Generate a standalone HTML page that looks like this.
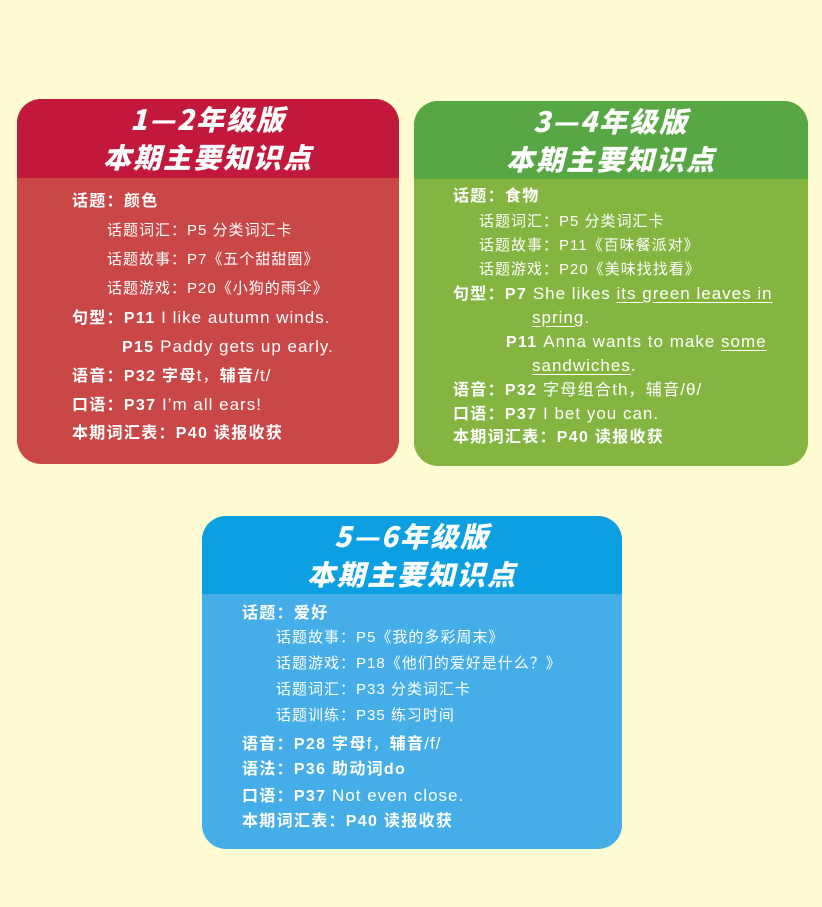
<!DOCTYPE html>
<html><head><meta charset="utf-8"><style>
body{margin:0;width:822px;height:907px;background:#fffbd3;position:relative;overflow:hidden;font-family:"Liberation Sans","Noto Sans CJK SC",sans-serif;color:#fff}
.box{position:absolute;border-radius:24px;overflow:hidden}
.hd{position:absolute;left:0;right:0;top:0;text-align:center;font-family:"Noto Sans CJK SC",sans-serif;font-weight:900;font-style:italic;font-size:28px;line-height:38px;padding-top:1px;letter-spacing:2px}
.t{position:absolute;white-space:nowrap;font-size:16px;line-height:20px;letter-spacing:1.3px}
.b{font-weight:bold}
.s{font-size:15px;letter-spacing:1px}
.e{font-size:17px;letter-spacing:1px}
u{text-decoration:underline;text-underline-offset:3px}
</style></head><body>

<div class="box" style="left:17px;top:99px;width:382px;height:365px;background:#c94746">
<div class="hd" style="height:78px;background:#c2183b">1—2年级版<br>本期主要知识点</div>
</div>
<div class="t b" style="left:72px;top:192px">话题：颜色</div>
<div class="t s" style="left:107px;top:221px">话题词汇：P5 分类词汇卡</div>
<div class="t s" style="left:107px;top:250px">话题故事：P7《五个甜甜圈》</div>
<div class="t s" style="left:107px;top:279px">话题游戏：P20《小狗的雨伞》</div>
<div class="t" style="left:72px;top:308px"><span class="b">句型：P11</span> <span class="e">I like autumn winds.</span></div>
<div class="t" style="left:122px;top:337px"><span class="b">P15</span> <span class="e">Paddy gets up early.</span></div>
<div class="t" style="left:72px;top:366px"><span class="b">语音：P32 字母</span><span class="e">t</span>，<span class="b">辅音</span><span class="e">/t/</span></div>
<div class="t" style="left:72px;top:395px"><span class="b">口语：P37</span> <span class="e">I’m all ears!</span></div>
<div class="t b" style="left:72px;top:424px">本期词汇表：P40 读报收获</div>

<div class="box" style="left:414px;top:101px;width:394px;height:365px;background:#84b541">
<div class="hd" style="height:77px;background:#57a745">3—4年级版<br>本期主要知识点</div>
</div>
<div class="t b" style="left:453px;top:187px">话题：食物</div>
<div class="t s" style="left:479px;top:212px">话题词汇：P5 分类词汇卡</div>
<div class="t s" style="left:479px;top:236px">话题故事：P11《百味餐派对》</div>
<div class="t s" style="left:479px;top:260px">话题游戏：P20《美味找找看》</div>
<div class="t" style="left:453px;top:284px"><span class="b">句型：P7</span> <span class="e">She likes <u>its green leaves in</u></span></div>
<div class="t" style="left:532px;top:308px"><span class="e"><u>spring</u>.</span></div>
<div class="t" style="left:506px;top:332px"><span class="b">P11</span> <span class="e">Anna wants to make <u>some</u></span></div>
<div class="t" style="left:532px;top:356px"><span class="e"><u>sandwiches</u>.</span></div>
<div class="t" style="left:453px;top:380px"><span class="b">语音：P32</span> 字母组合<span class="e">th</span>，辅音<span class="e">/θ/</span></div>
<div class="t" style="left:453px;top:404px"><span class="b">口语：P37</span> <span class="e">I bet you can.</span></div>
<div class="t b" style="left:453px;top:428px">本期词汇表：P40 读报收获</div>

<div class="box" style="left:202px;top:516px;width:420px;height:333px;background:#45aee8">
<div class="hd" style="height:77px;background:#0ca0e2">5—6年级版<br>本期主要知识点</div>
</div>
<div class="t b" style="left:242px;top:604px">话题：爱好</div>
<div class="t s" style="left:276px;top:628px">话题故事：P5《我的多彩周末》</div>
<div class="t s" style="left:276px;top:654px">话题游戏：P18《他们的爱好是什么？》</div>
<div class="t s" style="left:276px;top:680px">话题词汇：P33 分类词汇卡</div>
<div class="t s" style="left:276px;top:706px">话题训练：P35 练习时间</div>
<div class="t" style="left:242px;top:734px"><span class="b">语音：P28 字母</span><span class="e">f</span>，<span class="b">辅音</span><span class="e">/f/</span></div>
<div class="t b" style="left:242px;top:760px">语法：P36 助动词do</div>
<div class="t" style="left:242px;top:786px"><span class="b">口语：P37</span> <span class="e">Not even close.</span></div>
<div class="t b" style="left:242px;top:812px">本期词汇表：P40 读报收获</div>
</body></html>
